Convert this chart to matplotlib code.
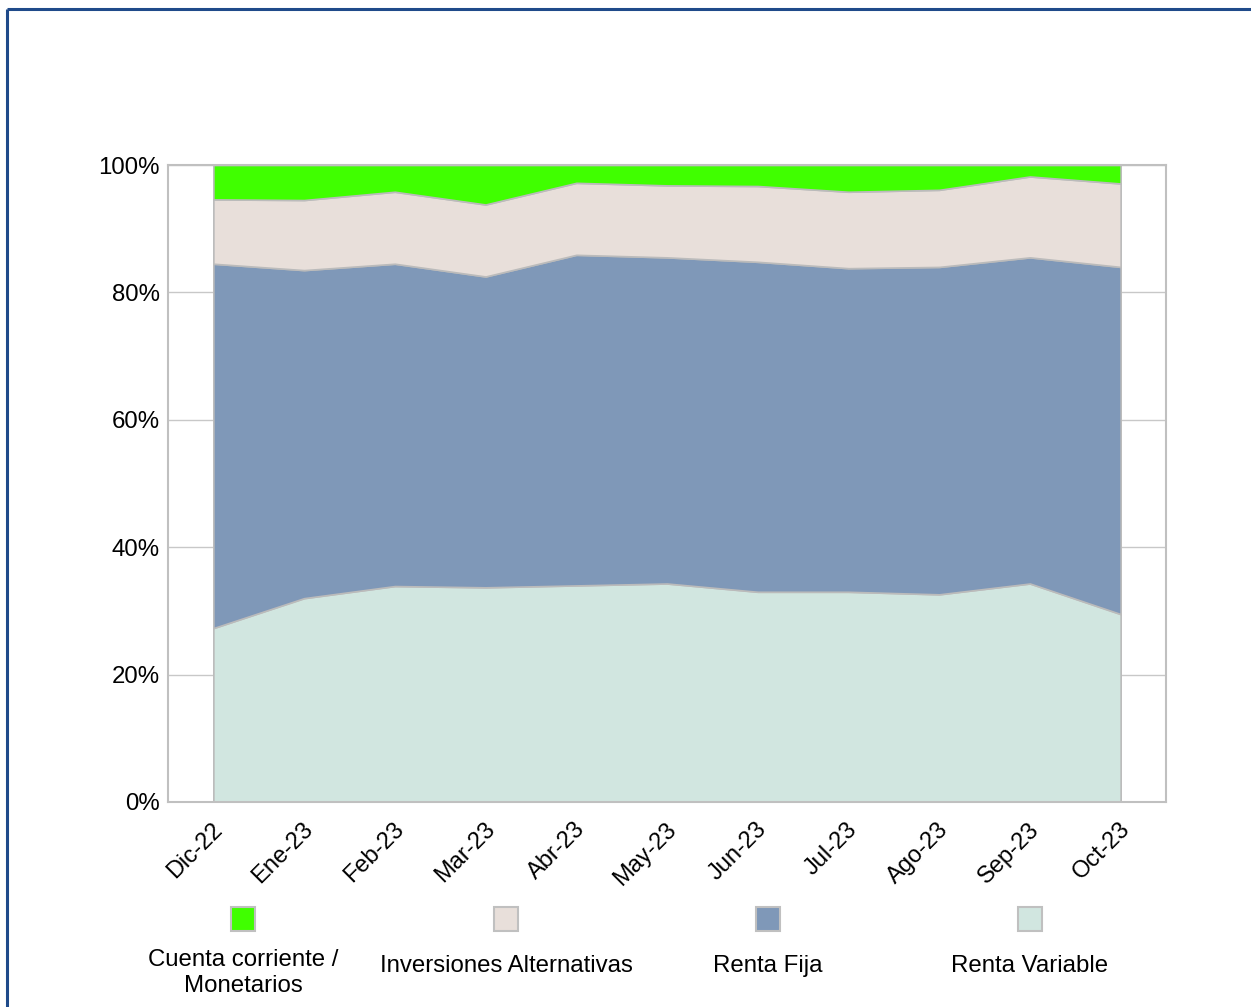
import matplotlib
matplotlib.use("Agg")
import matplotlib.pyplot as plt
import matplotlib.transforms as mtransforms
from matplotlib.patches import Rectangle
from matplotlib.lines import Line2D

plt.rcParams['font.family'] = ['Liberation Sans', 'DejaVu Sans']

months = ["Dic-22", "Ene-23", "Feb-23", "Mar-23", "Abr-23", "May-23",
          "Jun-23", "Jul-23", "Ago-23", "Sep-23", "Oct-23"]
renta_variable = [27.3, 32.0, 33.9, 33.7, 34.0, 34.3, 33.0, 33.0, 32.6, 34.3, 29.5]
renta_fija = [57.2, 51.5, 50.6, 48.8, 51.9, 51.2, 51.8, 50.8, 51.4, 51.2, 54.5]
inversiones_alt = [10.1, 11.0, 11.3, 11.3, 11.3, 11.3, 11.9, 12.0, 12.1, 12.7, 13.1]
cuenta_corriente = [5.4, 5.5, 4.2, 6.2, 2.8, 3.2, 3.3, 4.2, 3.9, 1.8, 2.9]

labels = ["Cuenta corriente /\nMonetarios", "Inversiones Alternativas",
          "Renta Fija", "Renta Variable"]
colors = ["#40FF00", "#E8DFDA", "#7F98B8", "#D1E6E0"]

W, H = 1251, 1007
fig = plt.figure(figsize=(W / 100, H / 100), dpi=100)
ax = fig.add_axes([168 / W, 1 - 802 / H, (1166 - 168) / W, (802 - 165) / H])

x = list(range(len(months)))
ax.stackplot(x, renta_variable, renta_fija, inversiones_alt, cuenta_corriente,
             colors=[colors[3], colors[2], colors[1], colors[0]],
             edgecolor="#BBBBBB", linewidth=1.2, zorder=2)

ax.set_xlim(-0.5, len(months) - 0.5)
ax.set_ylim(0, 100)
ax.set_yticks([0, 20, 40, 60, 80, 100])
ax.set_yticklabels([f"{v}%" for v in [0, 20, 40, 60, 80, 100]], fontsize=17.3)
ax.yaxis.grid(True, color="#C8C8C8", linewidth=1, zorder=0)
ax.set_axisbelow(True)
ax.tick_params(axis="both", length=0, pad=6)
ax.set_xticks(x)
ax.set_xticklabels(months, fontsize=17, rotation=45, ha="right", va="top",
                   rotation_mode="anchor")
offset = mtransforms.ScaledTranslation(-2 / 100, -8 / 100, fig.dpi_scale_trans)
for lbl in ax.get_xticklabels():
    lbl.set_transform(lbl.get_transform() + offset)
for sp in ax.spines.values():
    sp.set_color("#C0C0C0")
    sp.set_linewidth(1.5)

# legend built manually: square above, label below
leg_x = [243, 506, 768, 1030]
for lx, lab, col in zip(leg_x, labels, colors):
    fig.patches.append(Rectangle(((lx - 12) / W, 1 - 931 / H), 24 / W, 24 / H,
                                 transform=fig.transFigure, facecolor=col,
                                 edgecolor="#C0C0C0", linewidth=1.5))
    ty = 973 if "\n" in lab else 966
    fig.text(lx / W, 1 - ty / H, lab, ha="center", va="center", fontsize=17.3,
             linespacing=1.25)

# outer frame lines (top and left)
fig.add_artist(Line2D([7 / W, 1.02], [1 - 9 / H, 1 - 9 / H], color="#1F4A8A",
                      linewidth=2.2, solid_capstyle="butt",
                      transform=fig.transFigure))
fig.add_artist(Line2D([7 / W, 7 / W], [-0.02, 1 - 9 / H], color="#1F4A8A",
                      linewidth=2.2, solid_capstyle="butt",
                      transform=fig.transFigure))

fig.savefig("out.png", dpi=100, facecolor="white")
